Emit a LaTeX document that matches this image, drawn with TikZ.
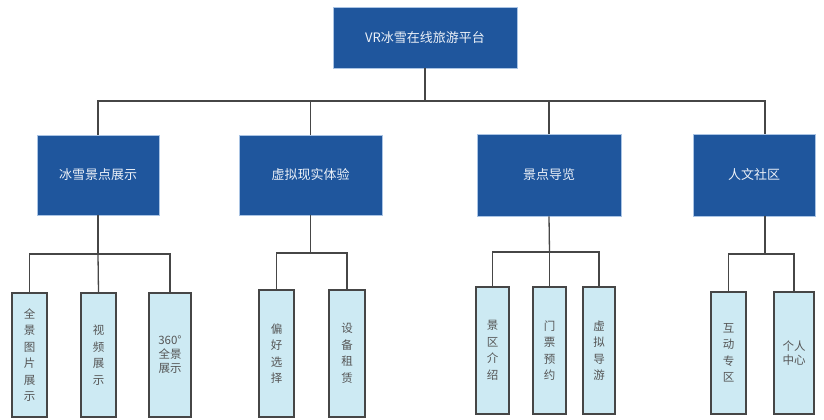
\documentclass[tikz,border=0pt]{standalone}
\usepackage{fontspec}
\setmainfont{Noto Sans CJK SC}
\begin{document}
\begin{tikzpicture}[x=1pt,y=-1pt,
  blue/.style={draw=bordblue,line width=0.8pt,fill=mainblue,text=textwhite,font=\fontsize{13}{15}\selectfont,inner sep=0pt},
  leaf/.style={draw=linegray,line width=1.4pt,fill=leafcyan,text=leaftext,font=\fontsize{11.5}{16.5}\selectfont,inner sep=0pt,align=center},
  conn/.style={draw=linegray,line width=1.3pt}]
\definecolor{mainblue}{RGB}{31,86,157}
\definecolor{bordblue}{RGB}{170,196,228}
\definecolor{textwhite}{RGB}{236,241,248}
\definecolor{leafcyan}{RGB}{205,234,243}
\definecolor{linegray}{RGB}{70,70,70}
\definecolor{leaftext}{RGB}{85,85,85}
\useasboundingbox (0,0) rectangle (824,420);
% top
\node[blue,minimum width=184pt,minimum height=61pt] (top) at (425,37.5) {VR冰雪在线旅游平台};
% level 2
\node[blue,minimum width=122pt,minimum height=80pt] (a) at (98,175) {冰雪景点展示};
\node[blue,minimum width=143pt,minimum height=80pt] (b) at (310.5,175) {虚拟现实体验};
\node[blue,minimum width=144pt,minimum height=82pt] (c) at (549,175) {景点导览};
\node[blue,minimum width=122pt,minimum height=82pt] (d) at (754,175) {人文社区};
% leaves
\node[leaf,minimum width=35pt,minimum height=124pt] (a1) at (29.5,355) {全\\景\\图\\片\\展\\示};
\node[leaf,minimum width=35pt,minimum height=124pt] (a2) at (98.5,355) {视\\频\\展\\示};
\node[leaf,minimum width=42pt,minimum height=124pt,font=\fontsize{11.5}{14}\selectfont] (a3) at (170,355) {360°\\全景\\展示};
\node[leaf,minimum width=35pt,minimum height=127pt] (b1) at (276.5,353.5) {偏\\好\\选\\择};
\node[leaf,minimum width=36pt,minimum height=127pt] (b2) at (347,353.5) {设\\备\\租\\赁};
\node[leaf,minimum width=33pt,minimum height=127pt] (c1) at (492.5,350.5) {景\\区\\介\\绍};
\node[leaf,minimum width=33pt,minimum height=127pt] (c2) at (549.5,350.5) {门\\票\\预\\约};
\node[leaf,minimum width=32pt,minimum height=127pt] (c3) at (599,350.5) {虚\\拟\\导\\游};
\node[leaf,minimum width=35pt,minimum height=122pt] (d1) at (728.5,353) {互\\动\\专\\区};
\node[leaf,minimum width=40pt,minimum height=122pt,font=\fontsize{11.5}{13.5}\selectfont] (d2) at (794,353) {个人\\中心};
% connectors level 1
\coordinate (h1) at (425,101);
\draw[conn] (top.south) -- (h1);
\draw[conn] (a.north -| 98,0) -- (98,101) -- (765,101) -- (d.north -| 765,0);
\draw[conn] (310.5,101) -- (b.north);
\draw[conn] (549,101) -- (c.north);
% group a
\draw[conn] (a.south) -- (98,254);
\draw[conn] (a1.north) -- (29.5,254) -- (170,254) -- (a3.north);
\draw[conn] (98,254) -- (a2.north);
% group b
\draw[conn] (b.south) -- (310.5,253);
\draw[conn] (b1.north) -- (276.5,253) -- (347,253) -- (b2.north);
% group c
\draw[conn] (c.south) -- (549.5,252);
\draw[conn] (c1.north) -- (492.5,252) -- (599,252) -- (c3.north);
\draw[conn] (549.5,252) -- (c2.north);
% group d
\draw[conn] (765,216) -- (765,254);
\draw[conn] (d1.north) -- (728.5,254) -- (794,254) -- (d2.north);
\end{tikzpicture}
\end{document}
